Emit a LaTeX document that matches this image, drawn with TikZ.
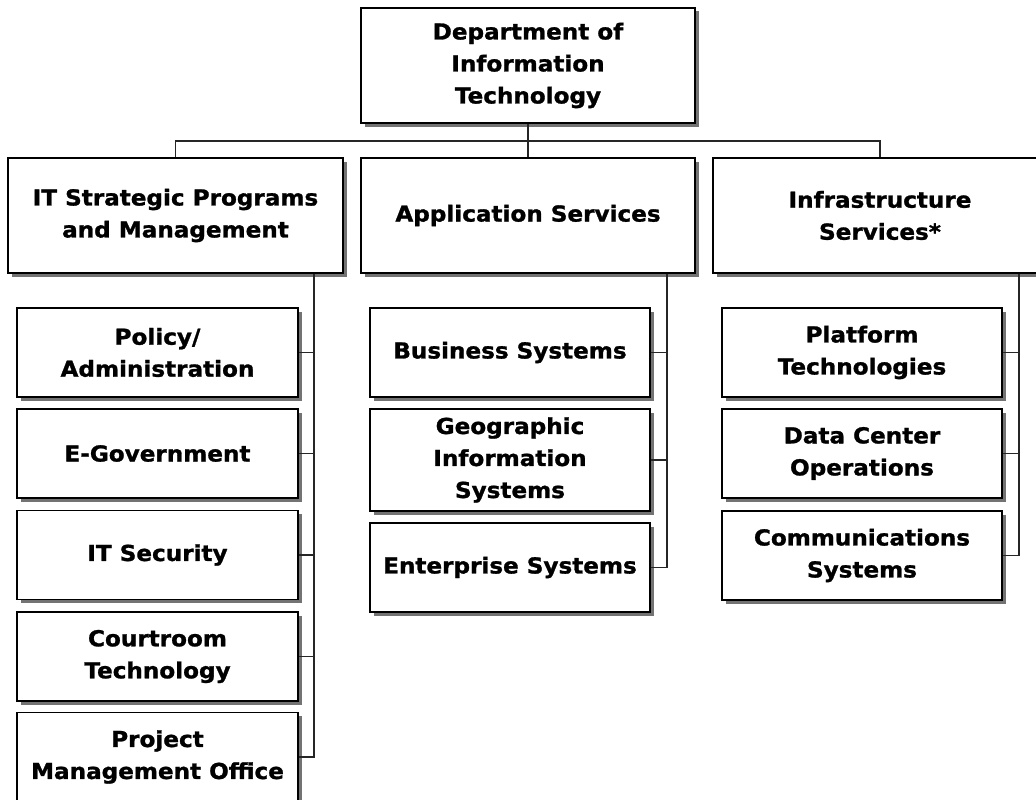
\documentclass[tikz,border=0pt]{standalone}
\usepackage{fontspec}
\newfontfamily\vf[FakeStretch=1.05, FakeBold=1.2]{DejaVu Sans}
\usetikzlibrary{shadows}
\begin{document}
\begin{tikzpicture}[x=1pt,y=-1pt,
  box/.style={draw=black, line width=1.2pt, fill=white, align=center, inner sep=0pt,
    font=\vf\bfseries\fontsize{22}{32}\selectfont,
    drop shadow={shadow xshift=3.5pt, shadow yshift=-3.5pt, fill=black!55, opacity=1}},
  big/.style={box, minimum width=334pt, minimum height=115pt},
  small/.style={box, minimum width=281pt, minimum height=89pt},
  link/.style={draw=black!85, line width=1.2pt}]
\useasboundingbox (0,0) rectangle (1036,800);
\clip (0,0) rectangle (1036,800);
\fill[white] (0,0) rectangle (1036,800);
% top
\node[big] (top) at (528,65.5) {Department of\\Information\\Technology};
% second level
\node[big, minimum width=335pt] (it) at (175.5,215.5) {IT Strategic Programs\\and Management};
\node[big] (app) at (528,215.5) {Application Services};
\node[big] (inf) at (880,215.5) {Infrastructure\\Services*};
% left column
\node[small] (pol) at (157.5,352.5) {Policy/\\Administration};
\node[small] (egov) at (157.5,453.5) {E-Government};
\node[small] (sec) at (157.5,555) {IT Security};
\node[small] (court) at (157.5,656.5) {Courtroom\\Technology};
\node[small] (pmo) at (157.5,757) {Project\\Management Office};
% middle column
\node[small, minimum width=280pt] (bus) at (510,352.5) {Business Systems};
\node[small, minimum width=280pt, minimum height=102pt] (geo) at (510,460) {Geographic\\Information\\Systems};
\node[small, minimum width=280pt] (ent) at (510,567.5) {Enterprise Systems};
% right column
\node[small, minimum width=280pt] (plat) at (862,352.5) {Platform\\Technologies};
\node[small, minimum width=280pt] (dc) at (862,453.5) {Data Center\\Operations};
\node[small, minimum width=280pt] (comm) at (862,555.5) {Communications\\Systems};
% bus coordinates
\coordinate (hb) at (528,141);
\coordinate (lb) at (314,0);
\coordinate (mb) at (667,0);
\coordinate (rb) at (1019,0);
% top links
\draw[link] (top.south) -- (app.north);
\draw[link] (it.north) |- (hb) -| (inf.north);
% child links
\foreach \c in {pol,egov,sec,court,pmo}
  \draw[link] (it.south -| lb) |- (\c.east);
\foreach \c in {bus,geo,ent}
  \draw[link] (app.south -| mb) |- (\c.east);
\foreach \c in {plat,dc,comm}
  \draw[link] (inf.south -| rb) |- (\c.east);
\end{tikzpicture}
\end{document}
